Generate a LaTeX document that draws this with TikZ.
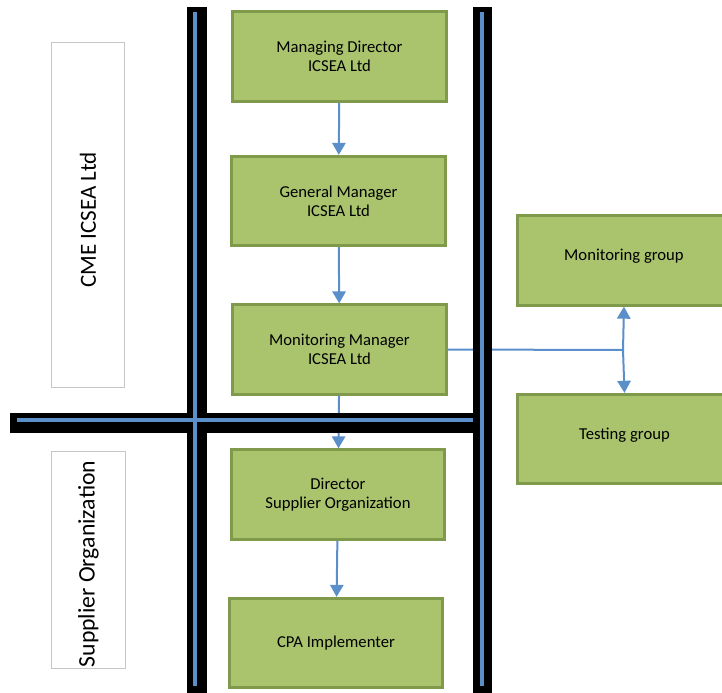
\documentclass[tikz,border=0pt]{standalone}
\usepackage{fontspec}
\setmainfont{Carlito}
\usetikzlibrary{arrows.meta}
\definecolor{boxfill}{HTML}{AAC46E}
\definecolor{boxline}{HTML}{7F9A4A}
\definecolor{barblue}{HTML}{5B8FC9}

\begin{document}
\begin{tikzpicture}[x=0.75pt,y=-0.75pt,
		box/.style={draw=boxline,line width=2.25pt,fill=boxfill,minimum width=160pt,minimum height=67pt,
			align=center,font=\fontsize{12.5}{14.25}\selectfont},
		side/.style={draw=black!22,line width=0.9pt,fill=white,minimum width=55pt,align=center},
		flow/.style={barblue,line width=1.5pt,-{Triangle[width=10pt,length=9pt]}},
		bar/.style={line width=14.5pt},
		barline/.style={barblue,line width=3pt}]
		\useasboundingbox (0,0) rectangle (722,693);
		\clip (0,0) rectangle (722,693);

		\node[side,minimum height=259pt] at (88,215)(cme){};
		\node[rotate=90,font=\fontsize{17.3}{19}\selectfont] at (88,220){CME ICSEA Ltd};
		\node[side,minimum height=163pt] at (88.5,560)(sup){};
		\node[rotate=90,font=\fontsize{17.8}{19}\selectfont] at (88.5,564){Supplier Organization};

		\node[box] at (339.5,56.5)(md){Managing Director\\ICSEA Ltd};
		\node[box] at (338.5,201)(gm){General Manager\\ICSEA Ltd};
		\node[box] at (339.5,349.5)(mm){Monitoring Manager\\ICSEA Ltd};
		\node[box] at (338,494.5)(dir){Director\\Supplier Organization};
		\node[box] at (336,643)(cpa){CPA Implementer};
		\node[box] at (624,260.5)(mg){\raisebox{8pt}{Monitoring group}};
		\node[box] at (624.5,439)(tg){\raisebox{8pt}{Testing group}};
		\coordinate (split) at (623,350);

		\path[flow](md)edge(gm)(gm)edge(mm)(mm)edge(dir)(dir)edge(cpa);
		\draw[barblue,line width=1.5pt](mm.east)--(split);
		\path[flow](split)edge(mg.south)(split)edge(tg.north);

		% separators
		\draw[bar](197,7)--(197,700);
		\draw[bar](482.5,7)--(482.5,700);
		\draw[bar](10,423)--(473,423);
		\draw[barline](195,12)--(195,686);
		\draw[barline](482,12)--(482,686);
		\draw[barline](17,420)--(473,420);
	\end{tikzpicture}
\end{document}
